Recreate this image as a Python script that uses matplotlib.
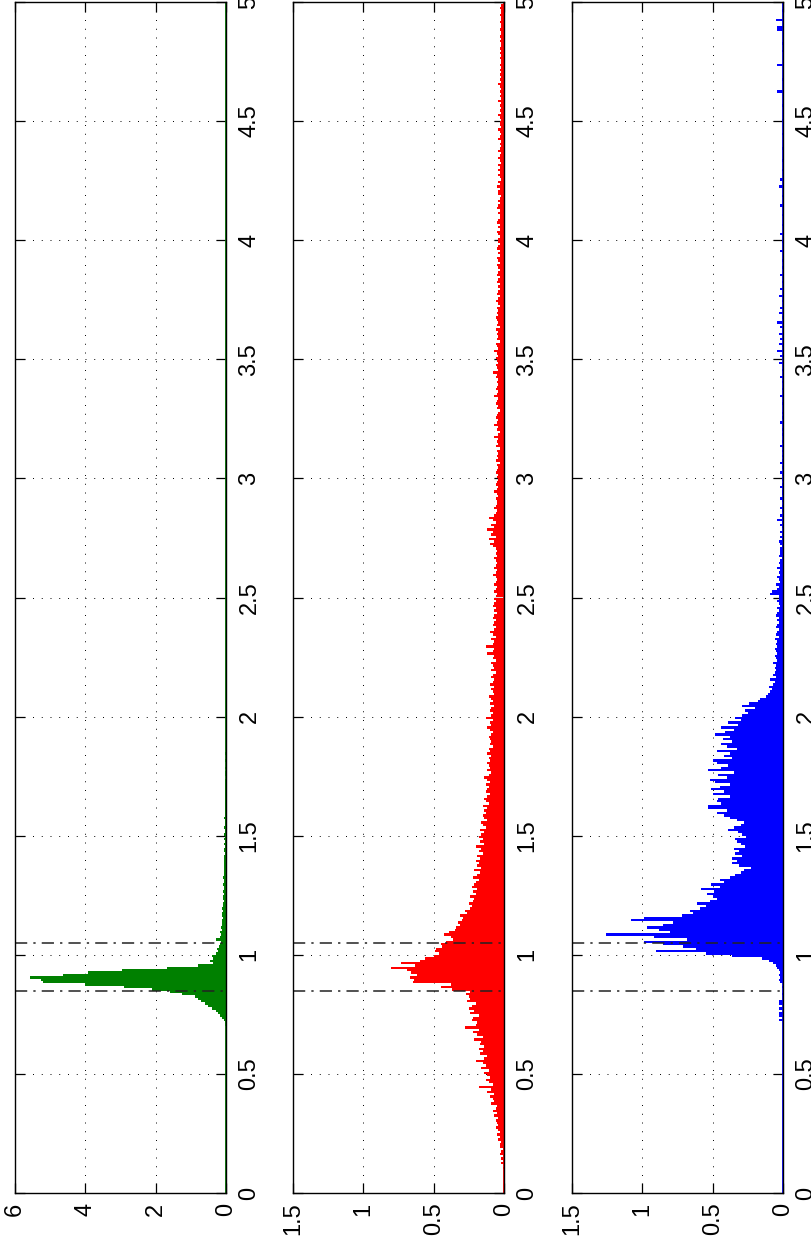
import numpy as np
import matplotlib
matplotlib.use("Agg")
import matplotlib.pyplot as plt

plt.rcParams['font.family'] = ['Liberation Sans', 'DejaVu Sans']

# histogram bin width and start of each listed series
bin_w = 0.01
green_start = 0.70
red_start = 0.10
blue_start = 0.70

# green: narrow peak
green_vals = [
    0.02, 0.02, 0.05, 0.10, 0.17, 0.22, 0.28, 0.40, 0.50, 0.60,   # 0.70
    0.70, 0.80, 0.88, 1.25, 1.60, 2.10, 2.90, 4.00, 5.19, 5.26,   # 0.80
    5.57, 4.63, 3.92, 2.95, 1.68, 0.80, 0.37, 0.45, 0.37, 0.40,   # 0.90
    0.28, 0.22, 0.25, 0.20, 0.18, 0.15, 0.28, 0.17, 0.14, 0.16,   # 1.00
    0.12, 0.13, 0.10, 0.12, 0.11, 0.09, 0.12, 0.10, 0.08, 0.10,   # 1.10
    0.08, 0.09, 0.07, 0.08, 0.09, 0.06, 0.08, 0.07, 0.06, 0.08,   # 1.20
    0.07, 0.06, 0.08, 0.05, 0.07, 0.06, 0.05, 0.07, 0.05, 0.06,   # 1.30
    0.05, 0.06, 0.04, 0.05, 0.06, 0.04, 0.05, 0.04, 0.06, 0.04,   # 1.40
    0.05, 0.04, 0.03, 0.05, 0.04, 0.03, 0.04, 0.05, 0.03, 0.04,   # 1.50
    0.03, 0.04, 0.03, 0.02, 0.04, 0.03, 0.02, 0.03, 0.02, 0.03,   # 1.60
    0.02, 0.03, 0.02, 0.02, 0.01, 0.02, 0.03, 0.01, 0.02, 0.01,   # 1.70
    0.01, 0.02, 0.01, 0.01, 0.02, 0.01, 0.01, 0.00, 0.01, 0.01,   # 1.80
]

# red: broad peak with long tail
red_vals = [
    0.01, 0.00, 0.02, 0.01, 0.02, 0.01, 0.03, 0.02, 0.01, 0.03,   # 0.10
    0.03, 0.02, 0.04, 0.03, 0.05, 0.03, 0.04, 0.06, 0.04, 0.05,   # 0.20
    0.06, 0.04, 0.07, 0.05, 0.08, 0.06, 0.05, 0.09, 0.07, 0.08,   # 0.30
    0.10, 0.07, 0.12, 0.09, 0.18, 0.08, 0.11, 0.13, 0.10, 0.12,   # 0.40
    0.14, 0.11, 0.16, 0.13, 0.15, 0.20, 0.14, 0.12, 0.17, 0.15,   # 0.50
    0.18, 0.14, 0.17, 0.16, 0.21, 0.15, 0.19, 0.22, 0.18, 0.28,   # 0.60
    0.20, 0.19, 0.23, 0.22, 0.18, 0.24, 0.21, 0.25, 0.23, 0.20,   # 0.70
    0.26, 0.24, 0.25, 0.27, 0.24, 0.37, 0.45, 0.38, 0.65, 0.64,   # 0.80
    0.67, 0.62, 0.66, 0.69, 0.80, 0.63, 0.73, 0.60, 0.56, 0.50,   # 0.90
    0.46, 0.49, 0.48, 0.44, 0.45, 0.41, 0.36, 0.38, 0.43, 0.39,   # 1.00
    0.35, 0.34, 0.31, 0.33, 0.30, 0.29, 0.31, 0.26, 0.28, 0.24,   # 1.10
    0.23, 0.25, 0.22, 0.21, 0.24, 0.20, 0.22, 0.19, 0.23, 0.21,   # 1.20
    0.20, 0.18, 0.22, 0.19, 0.17, 0.21, 0.16, 0.19, 0.18, 0.20,   # 1.30
    0.17, 0.19, 0.15, 0.18, 0.16, 0.20, 0.14, 0.17, 0.15, 0.18,   # 1.40
    0.16, 0.14, 0.17, 0.13, 0.15, 0.16, 0.12, 0.14, 0.15, 0.13,   # 1.50
    0.14, 0.12, 0.15, 0.11, 0.13, 0.14, 0.12, 0.10, 0.13, 0.12,   # 1.60
    0.11, 0.13, 0.10, 0.12, 0.14, 0.11, 0.09, 0.12, 0.10, 0.11,   # 1.70
    0.12, 0.10, 0.11, 0.09, 0.12, 0.10, 0.11, 0.08, 0.10, 0.09,   # 1.80
    0.10, 0.11, 0.09, 0.08, 0.10, 0.12, 0.09, 0.10, 0.08, 0.13,   # 1.90
    0.09, 0.08, 0.10, 0.09, 0.07, 0.10, 0.08, 0.09, 0.11, 0.07,   # 2.00
    0.08, 0.09, 0.07, 0.10, 0.08, 0.07, 0.09, 0.08, 0.06, 0.09,   # 2.10
    0.07, 0.08, 0.09, 0.06, 0.08, 0.07, 0.12, 0.08, 0.07, 0.13,   # 2.20
    0.08, 0.07, 0.09, 0.06, 0.08, 0.10, 0.07, 0.06, 0.08, 0.07,   # 2.30
    0.06, 0.08, 0.07, 0.05, 0.07, 0.06, 0.08, 0.07, 0.06, 0.07,   # 2.40
    0.06, 0.05, 0.07, 0.06, 0.05, 0.07, 0.06, 0.05, 0.06, 0.08,   # 2.50
    0.06, 0.05, 0.07, 0.06, 0.05, 0.06, 0.07, 0.05, 0.06, 0.05,   # 2.60
    0.06, 0.08, 0.10, 0.07, 0.11, 0.06, 0.09, 0.08, 0.12, 0.07,   # 2.70
    0.09, 0.06, 0.08, 0.11, 0.07, 0.06, 0.05, 0.07, 0.06, 0.05,   # 2.80
    0.05, 0.06, 0.04, 0.05, 0.07, 0.05, 0.04, 0.06, 0.05, 0.04,   # 2.90
    0.05, 0.04, 0.06, 0.05, 0.04, 0.05, 0.03, 0.06, 0.04, 0.05,   # 3.00
    0.04, 0.05, 0.03, 0.06, 0.04, 0.05, 0.04, 0.07, 0.04, 0.03,   # 3.10
    0.05, 0.04, 0.07, 0.05, 0.04, 0.06, 0.05, 0.04, 0.03, 0.05,   # 3.20
    0.04, 0.06, 0.05, 0.04, 0.07, 0.05, 0.04, 0.06, 0.05, 0.04,   # 3.30
    0.05, 0.04, 0.06, 0.05, 0.08, 0.04, 0.05, 0.06, 0.04, 0.05,   # 3.40
    0.06, 0.04, 0.05, 0.07, 0.04, 0.05, 0.06, 0.03, 0.05, 0.04,   # 3.50
    0.05, 0.04, 0.06, 0.03, 0.05, 0.04, 0.05, 0.06, 0.04, 0.05,   # 3.60
    0.04, 0.05, 0.03, 0.04, 0.06, 0.04, 0.03, 0.05, 0.04, 0.03,   # 3.70
    0.04, 0.03, 0.05, 0.04, 0.03, 0.05, 0.04, 0.03, 0.04, 0.05,   # 3.80
    0.03, 0.04, 0.05, 0.03, 0.04, 0.03, 0.05, 0.04, 0.03, 0.04,   # 3.90
    0.04, 0.03, 0.04, 0.05, 0.03, 0.04, 0.03, 0.05, 0.04, 0.03,   # 4.00
    0.03, 0.04, 0.03, 0.05, 0.04, 0.03, 0.04, 0.03, 0.02, 0.04,   # 4.10
    0.04, 0.03, 0.05, 0.03, 0.04, 0.02, 0.03, 0.04, 0.03, 0.04,   # 4.20
    0.03, 0.04, 0.02, 0.03, 0.04, 0.03, 0.02, 0.04, 0.03, 0.02,   # 4.30
    0.03, 0.02, 0.04, 0.03, 0.02, 0.03, 0.04, 0.02, 0.03, 0.03,   # 4.40
    0.02, 0.03, 0.04, 0.02, 0.03, 0.02, 0.03, 0.02, 0.04, 0.02,   # 4.50
    0.03, 0.02, 0.03, 0.02, 0.03, 0.04, 0.02, 0.03, 0.02, 0.03,   # 4.60
    0.02, 0.03, 0.02, 0.03, 0.02, 0.02, 0.03, 0.02, 0.03, 0.02,   # 4.70
    0.03, 0.02, 0.02, 0.03, 0.02, 0.03, 0.02, 0.02, 0.03, 0.02,   # 4.80
    0.02, 0.03, 0.02, 0.02, 0.03, 0.02, 0.02, 0.03, 0.02, 0.01,   # 4.90
]

# blue: skewed peak starting near 1
blue_vals = [
    0.00, 0.00, 0.03, 0.00, 0.03, 0.03, 0.00, 0.03, 0.00, 0.03,   # 0.70
    0.03, 0.00, 0.00, 0.01, 0.00, 0.00, 0.01, 0.00, 0.02, 0.03,   # 0.80
    0.02, 0.03, 0.02, 0.03, 0.04, 0.05, 0.07, 0.10, 0.15, 0.36,   # 0.90
    0.55, 0.90, 0.62, 0.71, 0.85, 0.99, 0.68, 0.92, 1.26, 0.80,   # 1.00
    0.88, 0.97, 0.85, 0.78, 1.08, 0.99, 0.72, 0.64, 0.66, 0.59,   # 1.10
    0.55, 0.61, 0.52, 0.47, 0.50, 0.54, 0.49, 0.58, 0.45, 0.51,   # 1.20
    0.42, 0.45, 0.38, 0.34, 0.30, 0.28, 0.23, 0.31, 0.36, 0.33,   # 1.30
    0.36, 0.29, 0.34, 0.31, 0.35, 0.27, 0.30, 0.33, 0.34, 0.26,   # 1.40
    0.29, 0.32, 0.39, 0.35, 0.30, 0.28, 0.33, 0.38, 0.42, 0.47,   # 1.50
    0.40, 0.53, 0.53, 0.44, 0.47, 0.46, 0.38, 0.50, 0.42, 0.51,   # 1.60
    0.45, 0.38, 0.48, 0.52, 0.40, 0.46, 0.35, 0.53, 0.44, 0.39,   # 1.70
    0.47, 0.50, 0.36, 0.42, 0.38, 0.47, 0.33, 0.40, 0.44, 0.36,   # 1.80
    0.43, 0.38, 0.48, 0.41, 0.35, 0.44, 0.32, 0.39, 0.30, 0.34,   # 1.90
    0.29, 0.25, 0.27, 0.20, 0.29, 0.24, 0.18, 0.16, 0.12, 0.11,   # 2.00
    0.09, 0.08, 0.10, 0.07, 0.06, 0.09, 0.05, 0.07, 0.06, 0.05,   # 2.10
    0.06, 0.05, 0.07, 0.04, 0.05, 0.06, 0.04, 0.05, 0.06, 0.04,   # 2.20
    0.05, 0.04, 0.06, 0.03, 0.05, 0.04, 0.03, 0.05, 0.04, 0.03,   # 2.30
    0.04, 0.03, 0.05, 0.04, 0.03, 0.04, 0.02, 0.03, 0.04, 0.03,   # 2.40
    0.03, 0.09, 0.08, 0.04, 0.03, 0.05, 0.02, 0.03, 0.04, 0.02,   # 2.50
    0.03, 0.02, 0.04, 0.02, 0.03, 0.02, 0.01, 0.03, 0.02, 0.02,   # 2.60
    0.02, 0.01, 0.02, 0.03, 0.01, 0.02, 0.01, 0.02, 0.00, 0.01,   # 2.70
    0.02, 0.01, 0.04, 0.01, 0.02, 0.00, 0.01, 0.02, 0.01, 0.00,   # 2.80
    0.01, 0.02, 0.00, 0.01, 0.01, 0.00, 0.02, 0.01, 0.00, 0.01,   # 2.90
    0.00, 0.01, 0.02, 0.00, 0.01, 0.00, 0.02, 0.01, 0.00, 0.01,   # 3.00
    0.00, 0.01, 0.00, 0.02, 0.00, 0.01, 0.00, 0.00, 0.01, 0.00,   # 3.10
    0.01, 0.00, 0.00, 0.02, 0.00, 0.01, 0.00, 0.01, 0.00, 0.00,   # 3.20
    0.00, 0.01, 0.00, 0.00, 0.02, 0.00, 0.00, 0.01, 0.00, 0.00,   # 3.30
    0.01, 0.00, 0.02, 0.00, 0.00, 0.01, 0.00, 0.00, 0.03, 0.00,   # 3.40
    0.00, 0.02, 0.00, 0.04, 0.00, 0.01, 0.03, 0.00, 0.02, 0.00,   # 3.50
    0.03, 0.00, 0.00, 0.02, 0.00, 0.04, 0.00, 0.01, 0.00, 0.03,   # 3.60
    0.00, 0.02, 0.00, 0.00, 0.01, 0.00, 0.03, 0.00, 0.00, 0.02,   # 3.70
    0.00, 0.00, 0.01, 0.00, 0.00, 0.02, 0.00, 0.00, 0.01, 0.00,   # 3.80
    0.00, 0.01, 0.00, 0.00, 0.00, 0.02, 0.00, 0.00, 0.00, 0.01,   # 3.90
    0.00, 0.00, 0.02, 0.00, 0.00, 0.00, 0.01, 0.00, 0.00, 0.00,   # 4.00
    0.01, 0.00, 0.00, 0.00, 0.02, 0.00, 0.00, 0.00, 0.01, 0.00,   # 4.10
    0.00, 0.00, 0.03, 0.00, 0.00, 0.02, 0.00, 0.00, 0.00, 0.01,   # 4.20
    0.00, 0.00, 0.00, 0.01, 0.00, 0.00, 0.00, 0.00, 0.01, 0.00,   # 4.30
    0.00, 0.00, 0.00, 0.00, 0.01, 0.00, 0.00, 0.00, 0.00, 0.00,   # 4.40
    0.01, 0.00, 0.00, 0.00, 0.00, 0.00, 0.01, 0.00, 0.00, 0.00,   # 4.50
    0.00, 0.00, 0.04, 0.00, 0.00, 0.00, 0.00, 0.01, 0.00, 0.00,   # 4.60
    0.00, 0.00, 0.00, 0.04, 0.00, 0.00, 0.00, 0.00, 0.00, 0.01,   # 4.70
    0.00, 0.00, 0.01, 0.00, 0.00, 0.00, 0.00, 0.00, 0.04, 0.04,   # 4.80
    0.00, 0.00, 0.05, 0.00, 0.00, 0.00, 0.01, 0.00, 0.00, 0.00,   # 4.90
]

green_ticks = [0, 2, 4, 6]
rb_ticks = [0, 0.5, 1, 1.5]
val_ticks = [0, 0.5, 1, 1.5, 2, 2.5, 3, 3.5, 4, 4.5, 5]
val_labels = ['0', '0.5', '1', '1.5', '2', '2.5', '3', '3.5', '4', '4.5', '5']
band_lines = [0.85, 1.05]

panels = [
    (green_start, green_vals, '#008000', 6, green_ticks, ['0', '2', '4', '6']),
    (red_start, red_vals, '#ff0000', 1.5, rb_ticks, ['0', '0.5', '1', '1.5']),
    (blue_start, blue_vals, '#0000ff', 1.5, rb_ticks, ['0', '0.5', '1', '1.5']),
]
lefts = [15, 293, 572]
W, H = 811, 1247

fig = plt.figure(figsize=(W / 100, H / 100), dpi=100)

for (start, vals, col, vmax, cticks, clabels), lx in zip(panels, lefts):
    ax = fig.add_axes([lx / W, 1 - 1193 / H, 211 / W, 1191 / H])
    vals = np.array(vals)
    centers = start + bin_w * (np.arange(len(vals)) + 0.5)
    ax.barh(centers, vals, height=bin_w, left=0, color=col, linewidth=0, zorder=2)
    ax.axvline(0, color=col, lw=2, zorder=3)
    for b in band_lines:
        ax.axhline(b, color='#222222', lw=1.1, dashes=(8, 4, 1.5, 4), zorder=4)
    ax.set_ylim(0, 5)
    ax.set_xlim(vmax, 0)
    ax.set_xticks(cticks)
    ax.set_xticklabels(clabels)
    ax.set_yticks(val_ticks)
    ax.set_yticklabels(val_labels)
    ax.grid(True, color='black', lw=0.7, linestyle=(0, (1, 8)))
    ax.set_axisbelow(True)
    ax.tick_params(axis='both', direction='in', length=7, width=0.9,
                   top=True, bottom=True, left=True, right=True, labelsize=17)
    ax.tick_params(axis='y', labelleft=False, labelright=True, labelrotation=90, pad=9)
    ax.tick_params(axis='x', labelrotation=90, pad=7)
    for s in ax.spines.values():
        s.set_linewidth(1.0)
        s.set_zorder(5)
    for t in ax.get_yticklabels():
        t.set_va('center')

fig.savefig('out.png', dpi=100)
